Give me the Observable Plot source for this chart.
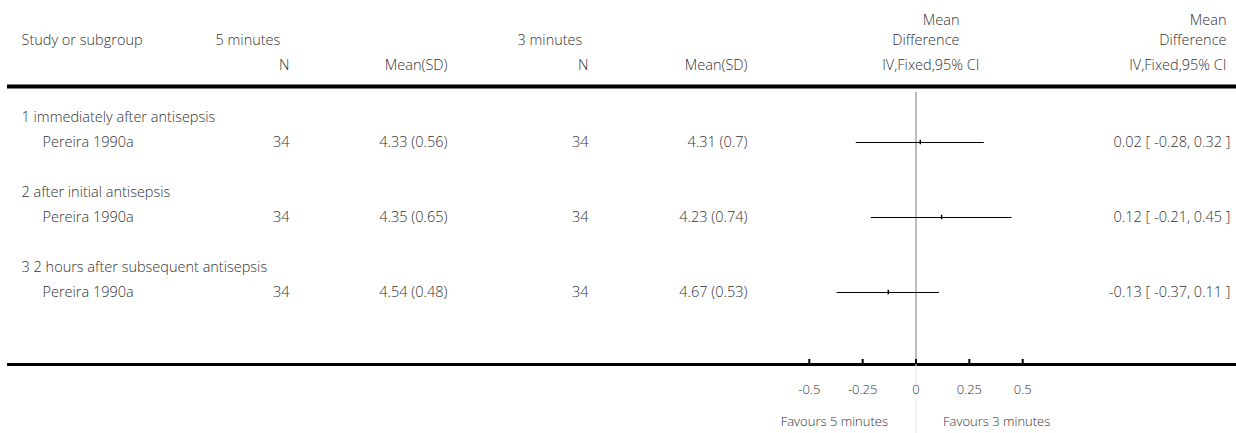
<!DOCTYPE html>
<html>
<head>
<meta charset="utf-8">
<script src="https://cdn.jsdelivr.net/npm/d3@7"></script>
<script src="https://cdn.jsdelivr.net/npm/@observablehq/plot@0.6"></script>
<style>
  html, body { margin: 0; padding: 0; background: #fff; }
</style>
</head>
<body>
<div id="chart"></div>
<script>
// Forest plot: 5 minutes vs 3 minutes, mean difference (IV, Fixed, 95% CI)
const subgroups = [
  "1 immediately after antisepsis",
  "2 after initial antisepsis",
  "3 2 hours after subsequent antisepsis"
];
const studies = ["Pereira 1990a", "Pereira 1990a", "Pereira 1990a"];
const n5 = [34, 34, 34];
const mean5 = [4.33, 4.35, 4.54];
const sd5 = [0.56, 0.65, 0.48];
const n3 = [34, 34, 34];
const mean3 = [4.31, 4.23, 4.67];
const sd3 = [0.7, 0.74, 0.53];
const md = [0.02, 0.12, -0.13];
const ciLow = [-0.28, -0.21, -0.37];
const ciHigh = [0.32, 0.45, 0.11];
const tickValues = [-0.5, -0.25, 0, 0.25, 0.5];
const tickLabels = ["-0.5", "-0.25", "0", "0.25", "0.5"];
const favoursLeft = "Favours 5 minutes";
const favoursRight = "Favours 3 minutes";

// Layout (row units: one text line = 25px)
const W = 1236, H = 433;
const pxPerUnit = 213.4;     // horizontal pixels per unit of mean difference
const zeroX = 915.5;         // pixel position of the line of no effect
const axisRow = 13.96;       // row of the bottom axis line
const topRow = -0.6;
const marginBottom = 69;
const xMin = -zeroX / pxPerUnit, xMax = (W - zeroX) / pxPerUnit;

const rows = subgroups.map((s, i) => ({
  subgroup: s,
  study: studies[i],
  n5: n5[i], m5: mean5[i], s5: sd5[i],
  n3: n3[i], m3: mean3[i], s3: sd3[i],
  md: md[i], lo: ciLow[i], hi: ciHigh[i],
  gy: 4.08 + 3 * i,
  sy: 5.08 + 3 * i
}));

const f2 = v => v.toFixed(2);
const FONT = "'Open Sans', Lato, sans-serif";
const txt = {fontSize: 14.5, fontWeight: 300, fill: "#333", frameAnchor: "left"};
const small = {fontSize: 13, fontWeight: 300, fill: "#333"};

const headers = [
  {t: "Study or subgroup", y: 1, dx: 21, a: "start"},
  {t: "5 minutes", y: 1, dx: 215, a: "start"},
  {t: "3 minutes", y: 1, dx: 517, a: "start"},
  {t: "N", y: 2, dx: 289, a: "end"},
  {t: "Mean(SD)", y: 2, dx: 447, a: "end"},
  {t: "N", y: 2, dx: 588, a: "end"},
  {t: "Mean(SD)", y: 2, dx: 747, a: "end"},
  {t: "Mean", y: 0.2, dx: 959, a: "end"},
  {t: "Difference", y: 1, dx: 959, a: "end"},
  {t: "IV,Fixed,95% CI", y: 2, dx: 979, a: "end"},
  {t: "Mean", y: 0.2, dx: 1226, a: "end"},
  {t: "Difference", y: 1, dx: 1226, a: "end"},
  {t: "IV,Fixed,95% CI", y: 2, dx: 1226, a: "end"}
];

const headerMarks = headers.map(h =>
  Plot.text([h], {...txt, y: "y", text: "t", dx: h.dx, textAnchor: h.a})
);

const colText = (accessor, dx, anchor, yKey = "sy") =>
  Plot.text(rows, {...txt, y: yKey, text: accessor, dx, textAnchor: anchor});

const chart = Plot.plot({
  width: W,
  height: H,
  marginLeft: 0,
  marginRight: 0,
  marginTop: 0,
  marginBottom,
  style: {fontFamily: FONT, fontSize: "14px", color: "#333", background: "#fff"},
  x: {domain: [xMin, xMax], axis: null},
  y: {domain: [topRow, axisRow], reverse: true, axis: null},
  marks: [
    // header rule and bottom axis rule
    Plot.ruleY([2.84], {x1: xMin + 7 / pxPerUnit, x2: xMax, stroke: "#000", strokeWidth: 4}),
    Plot.ruleY([axisRow], {x1: xMin + 7 / pxPerUnit, x2: xMax, stroke: "#000", strokeWidth: 3}),
    // line of no effect
    Plot.ruleX([0], {y1: 3.08, y2: axisRow, stroke: "#777", strokeWidth: 1}),
    Plot.ruleX([0], {y1: axisRow, y2: 16.8, stroke: "#e8e8e8", strokeWidth: 1}),
    // axis ticks (pointing up from the axis line)
    Plot.ruleX(tickValues, {x: d => d, y1: axisRow - 0.2, y2: axisRow, stroke: "#000", strokeWidth: 2}),
    Plot.axisX(tickValues, {
      anchor: "bottom", tickSize: 0, tickPadding: 20,
      tickFormat: (d, i) => tickLabels[i], ...small
    }),
    Plot.text([favoursLeft], {x: 0, y: 16.24, text: d => d, dx: -28, textAnchor: "end", ...small}),
    Plot.text([favoursRight], {x: 0, y: 16.24, text: d => d, dx: 27, textAnchor: "start", ...small}),
    // confidence intervals and point estimates
    Plot.ruleY(rows, {y: "sy", x1: "lo", x2: "hi", stroke: "#000", strokeWidth: 1}),
    Plot.ruleX(rows, {x: "md", y1: d => d.sy - 0.09, y2: d => d.sy + 0.09, stroke: "#000", strokeWidth: 1.5}),
    // table text
    ...headerMarks,
    colText("subgroup", 21, "start", "gy"),
    colText("study", 42, "start"),
    colText(d => String(d.n5), 289, "end"),
    colText(d => `${f2(d.m5)} (${d.s5})`, 447, "end"),
    colText(d => String(d.n3), 588, "end"),
    colText(d => `${f2(d.m3)} (${d.s3})`, 747, "end"),
    colText(d => `${f2(d.md)} [ ${f2(d.lo)}, ${f2(d.hi)} ]`, 1230, "end")
  ]
});

document.getElementById("chart").appendChild(chart);
</script>
</body>
</html>
